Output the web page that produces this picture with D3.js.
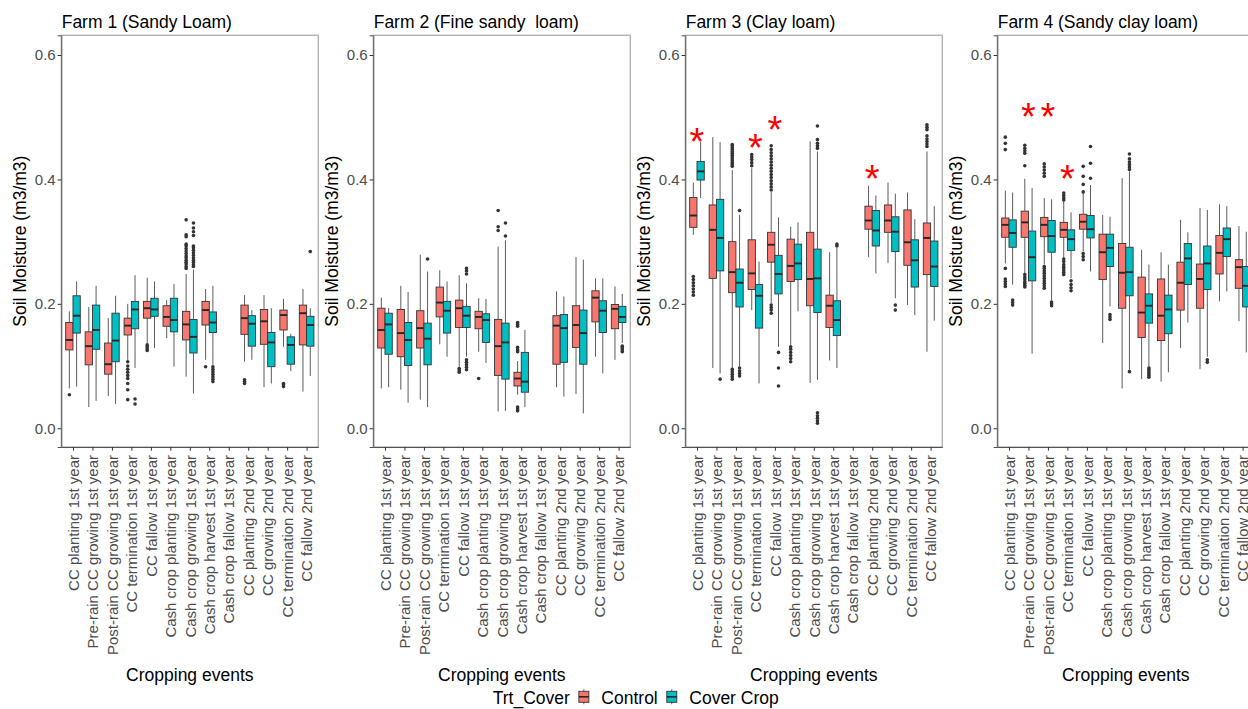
<!DOCTYPE html>
<html>
<head>
<meta charset="utf-8">
<script src="https://cdn.jsdelivr.net/npm/d3@7"></script>
<style>
  body { margin: 0; background: #fff; }
  svg { font-family: Arial, "Liberation Sans", sans-serif; }
</style>
</head>
<body>
<svg id="chart" width="1248" height="709"></svg>
<script>
const categories = [
  "CC planting 1st year", "Pre-rain CC growing 1st year", "Post-rain CC growing 1st year",
  "CC termination 1st year", "CC fallow 1st year", "Cash crop planting 1st year",
  "Cash crop growing 1st year", "Cash crop harvest 1st year", "Cash crop fallow 1st year",
  "CC planting 2nd year", "CC growing 2nd year", "CC termination 2nd year", "CC fallow 2nd year"
];
const farmTitles = ["Farm 1 (Sandy Loam)", "Farm 2 (Fine sandy  loam)", "Farm 3 (Clay loam)", "Farm 4 (Sandy clay loam)"];
const treatments = ["Control", "Cover Crop"];
const yTicks = [0, 0.2, 0.4, 0.6];

// [lower whisker, Q1, median, Q3, upper whisker] per cropping event
const f1Control = [
  [0.064, 0.126, 0.142, 0.170, 0.188], [0.034, 0.102, 0.132, 0.155, 0.195], [0.052, 0.087, 0.103, 0.137, 0.177],
  [0.110, 0.150, 0.165, 0.177, 0.200], [0.137, 0.177, 0.193, 0.204, 0.242], [0.145, 0.164, 0.179, 0.197, 0.206],
  [0.083, 0.142, 0.167, 0.188, 0.248], [0.110, 0.166, 0.190, 0.204, 0.224], null,
  [0.107, 0.151, 0.177, 0.198, 0.214], [0.066, 0.135, 0.172, 0.191, 0.214], [0.131, 0.158, 0.182, 0.190, 0.208],
  [0.059, 0.134, 0.185, 0.198, 0.224]
];
const f1Cover = [
  [0.067, 0.153, 0.181, 0.213, 0.236], [0.044, 0.127, 0.158, 0.198, 0.229], [0.039, 0.107, 0.141, 0.185, 0.213],
  [0.097, 0.160, 0.191, 0.204, 0.246], [0.129, 0.180, 0.191, 0.209, 0.236], [0.099, 0.155, 0.174, 0.209, 0.232],
  [0.056, 0.121, 0.147, 0.175, 0.255], [0.102, 0.154, 0.170, 0.187, 0.229], null,
  [0.110, 0.132, 0.168, 0.181, 0.190], [0.072, 0.099, 0.138, 0.154, 0.193], [0.092, 0.103, 0.134, 0.147, 0.152],
  [0.084, 0.132, 0.166, 0.180, 0.193]
];
const f1ControlOut = [
  [0.054], [], [], [0.046, 0.062, 0.072, 0.080, 0.085, 0.090, 0.095, 0.100, 0.107], [0.125, 0.128, 0.131, 0.134], [],
  [0.257, 0.260, 0.264, 0.267, 0.270, 0.274, 0.277, 0.281, 0.285, 0.289, 0.293, 0.296, 0.308, 0.311, 0.335],
  [0.099], [], [0.072, 0.075, 0.078], [], [0.067, 0.070, 0.072], []
];
const f1CoverOut = [
  [], [], [], [0.039, 0.047], [], [],
  [0.260, 0.263, 0.267, 0.270, 0.274, 0.278, 0.282, 0.286, 0.290, 0.293, 0.310, 0.316, 0.322, 0.330],
  [0.075, 0.079, 0.083, 0.087, 0.091, 0.095, 0.099], [], [], [], [], [0.284]
];

const f2Control = [
  [0.064, 0.129, 0.158, 0.193, 0.210], [0.062, 0.115, 0.153, 0.191, 0.229], [0.046, 0.129, 0.161, 0.189, 0.279],
  [0.135, 0.179, 0.202, 0.227, 0.254], [0.099, 0.162, 0.193, 0.206, 0.246], [0.123, 0.160, 0.179, 0.188, 0.209],
  [0.027, 0.085, 0.132, 0.175, 0.292], [0.054, 0.068, 0.080, 0.090, 0.108], null,
  [0.066, 0.103, 0.165, 0.181, 0.220], [0.055, 0.130, 0.166, 0.197, 0.275], [0.115, 0.171, 0.210, 0.221, 0.241],
  [0.110, 0.160, 0.192, 0.199, 0.228]
];
const f2Cover = [
  [0.066, 0.119, 0.167, 0.185, 0.193], [0.041, 0.101, 0.142, 0.170, 0.219], [0.034, 0.102, 0.144, 0.169, 0.252],
  [0.115, 0.153, 0.189, 0.204, 0.236], [0.115, 0.162, 0.181, 0.196, 0.233], [0.105, 0.138, 0.174, 0.184, 0.208],
  [0.028, 0.079, 0.138, 0.169, 0.302], [0.034, 0.058, 0.075, 0.122, 0.158], null,
  [0.051, 0.106, 0.161, 0.183, 0.212], [0.024, 0.103, 0.153, 0.190, 0.271], [0.088, 0.154, 0.189, 0.205, 0.241],
  [0.137, 0.170, 0.179, 0.196, 0.216]
];
const f2ControlOut = [
  [], [], [], [], [0.090, 0.093, 0.096], [0.080], [0.318, 0.324, 0.350],
  [0.028, 0.031, 0.034, 0.123, 0.126, 0.130, 0.164, 0.167, 0.170], [], [], [], [], []
];
const f2CoverOut = [
  [], [], [0.272], [], [0.094, 0.098, 0.102, 0.106, 0.110, 0.248, 0.253, 0.257], [], [0.309, 0.330],
  [], [], [], [], [], [0.123, 0.126, 0.129, 0.132]
];

const f3Control = [
  [0.311, 0.323, 0.342, 0.371, 0.395], [0.097, 0.241, 0.319, 0.359, 0.468], [0.097, 0.218, 0.251, 0.300, 0.415],
  [0.190, 0.223, 0.249, 0.303, 0.418], [0.201, 0.267, 0.295, 0.315, 0.380], [0.134, 0.236, 0.261, 0.304, 0.324],
  [0.073, 0.197, 0.240, 0.315, 0.461], [0.109, 0.162, 0.197, 0.214, 0.283], null,
  [0.275, 0.320, 0.334, 0.357, 0.390], [0.266, 0.315, 0.334, 0.359, 0.395], [0.198, 0.262, 0.299, 0.351, 0.379],
  [0.123, 0.247, 0.306, 0.330, 0.445]
];
const f3Cover = [
  [0.370, 0.399, 0.413, 0.429, 0.461], [0.088, 0.253, 0.306, 0.368, 0.460], [0.099, 0.195, 0.234, 0.256, 0.343],
  [0.072, 0.161, 0.213, 0.231, 0.268], [0.131, 0.216, 0.248, 0.278, 0.339], [0.188, 0.239, 0.265, 0.296, 0.331],
  [0.078, 0.186, 0.241, 0.288, 0.445], [0.097, 0.149, 0.174, 0.205, 0.290], null,
  [0.249, 0.293, 0.318, 0.350, 0.374], [0.209, 0.284, 0.316, 0.340, 0.377], [0.182, 0.227, 0.270, 0.303, 0.336],
  [0.173, 0.228, 0.260, 0.301, 0.357]
];
const f3ControlOut = [
  [0.214, 0.219, 0.224, 0.229, 0.234, 0.239, 0.244], [],
  [0.079, 0.083, 0.087, 0.091, 0.095, 0.421, 0.424, 0.427, 0.430, 0.433, 0.436, 0.439, 0.442, 0.445, 0.448, 0.451, 0.454, 0.456],
  [0.422, 0.427, 0.432, 0.436, 0.440],
  [0.185, 0.190, 0.194, 0.198, 0.383, 0.388, 0.393, 0.398, 0.403, 0.408, 0.413, 0.418, 0.423, 0.428, 0.433, 0.438, 0.443, 0.448, 0.454],
  [0.107, 0.112, 0.117, 0.122, 0.127, 0.131], [], [], [], [], [], [],
  [0.453, 0.457, 0.461, 0.465, 0.470, 0.480, 0.484, 0.488]
];
const f3CoverOut = [
  [], [0.079], [0.084, 0.088, 0.092, 0.097, 0.350], [], [0.068, 0.097, 0.122], [],
  [0.008, 0.012, 0.016, 0.020, 0.025, 0.450, 0.454, 0.458, 0.464, 0.486], [0.293, 0.296], [], [], [0.190, 0.198], [], []
];

const f4Control = [
  [0.265, 0.307, 0.327, 0.338, 0.382], [0.249, 0.307, 0.331, 0.349, 0.401], [0.263, 0.308, 0.327, 0.339, 0.370],
  [0.273, 0.307, 0.319, 0.331, 0.365], [0.284, 0.320, 0.332, 0.344, 0.378], [0.137, 0.239, 0.283, 0.312, 0.343],
  [0.064, 0.193, 0.250, 0.297, 0.402], [0.079, 0.146, 0.186, 0.243, 0.287], [0.075, 0.141, 0.181, 0.240, 0.283],
  [0.129, 0.190, 0.234, 0.267, 0.335], [0.095, 0.193, 0.240, 0.264, 0.354], [0.204, 0.248, 0.282, 0.310, 0.360],
  [0.172, 0.225, 0.259, 0.271, 0.325]
];
const f4Cover = [
  [0.231, 0.291, 0.314, 0.335, 0.379], [0.120, 0.237, 0.275, 0.317, 0.386], [0.206, 0.283, 0.309, 0.334, 0.368],
  [0.241, 0.286, 0.304, 0.319, 0.347], [0.252, 0.306, 0.320, 0.342, 0.391], [0.196, 0.260, 0.290, 0.312, 0.340],
  [0.094, 0.213, 0.251, 0.291, 0.413], [0.099, 0.169, 0.197, 0.216, 0.263], [0.090, 0.152, 0.191, 0.214, 0.263],
  [0.170, 0.231, 0.273, 0.297, 0.315], [0.115, 0.223, 0.265, 0.293, 0.351], [0.220, 0.276, 0.304, 0.322, 0.357],
  [0.122, 0.195, 0.229, 0.260, 0.316]
];
const f4ControlOut = [
  [0.228, 0.232, 0.236, 0.240, 0.257, 0.448, 0.458, 0.468],
  [0.227, 0.230, 0.233, 0.236, 0.240, 0.243, 0.247, 0.422, 0.442, 0.446, 0.450, 0.455],
  [0.225, 0.229, 0.233, 0.237, 0.241, 0.245, 0.249, 0.253, 0.257, 0.260, 0.405, 0.410, 0.415, 0.420, 0.425],
  [0.247, 0.251, 0.255, 0.259, 0.263, 0.268, 0.272, 0.367, 0.370, 0.374, 0.378],
  [0.271, 0.276, 0.281, 0.380, 0.392, 0.405, 0.421], [], [], [], [], [], [], [], []
];
const f4CoverOut = [
  [0.198, 0.202, 0.206], [], [0.197, 0.200, 0.203], [0.221, 0.226, 0.231, 0.237], [0.402, 0.426, 0.453],
  [0.175, 0.179, 0.183], [0.091, 0.416, 0.420, 0.424, 0.428, 0.433, 0.441],
  [0.082, 0.085, 0.088, 0.091, 0.094, 0.097], [], [], [0.106, 0.110], [], []
];

// significance asterisks: farm index, event index, height
const starFarm = [2, 2, 2, 2, 3, 3, 3];
const starEvent = [0, 3, 4, 9, 1, 2, 3];
const starValue = [0.473, 0.463, 0.493, 0.413, 0.513, 0.513, 0.413];

const farmStats = [[f1Control, f1Cover], [f2Control, f2Cover], [f3Control, f3Cover], [f4Control, f4Cover]];
const farmOut = [[f1ControlOut, f1CoverOut], [f2ControlOut, f2CoverOut], [f3ControlOut, f3CoverOut], [f4ControlOut, f4CoverOut]];

const fills = ["#F8766D", "#00BFC4"];
const panelLeft = 61.3, panelGap = 312, panelW = 257, panelTop = 35.3, panelH = 411.7;

const svg = d3.select("#chart");

const y = d3.scaleLinear().domain([-0.0301, 0.6317]).range([panelTop + panelH, panelTop]);
const x = d3.scalePoint().domain(categories).range([0, panelW]).padding(0.6);
const step = x.step(), half = 0.375 * step;

farmTitles.forEach((title, fi) => {
  const g = svg.append("g").attr("transform", `translate(${panelLeft + fi * panelGap},0)`);

  g.append("rect").attr("x", 0).attr("y", panelTop).attr("width", panelW).attr("height", panelH)
    .attr("fill", "#fff").attr("stroke", "#b3b3b3").attr("stroke-width", 1.4);

  // y axis
  const ya = g.append("g").call(d3.axisLeft(y).tickValues(yTicks).tickFormat(d3.format(".1f")).tickSize(3.7));
  ya.select(".domain").attr("stroke", "#555").attr("stroke-width", 1);
  ya.selectAll(".tick line").attr("stroke", "#333");
  ya.selectAll(".tick text").attr("fill", "#4d4d4d").style("font-size", "15px").attr("x", -5.6);

  // x axis
  const xa = g.append("g").attr("transform", `translate(0,${panelTop + panelH})`)
    .call(d3.axisBottom(x).tickSize(3.7).tickSizeOuter(0));
  xa.select(".domain").attr("stroke", "#555").attr("stroke-width", 1);
  xa.selectAll(".tick line").attr("stroke", "#333");
  xa.selectAll(".tick text").attr("fill", "#4d4d4d").style("font-size", "15px")
    .attr("transform", "rotate(-90)").attr("text-anchor", "end")
    .attr("x", -8).attr("y", 0).attr("dy", "0.35em");

  // titles
  g.append("text").attr("x", 0.4).attr("y", 28.3).style("font-size", "17.5px").style("white-space", "pre")
    .attr("fill", "#000").text(title);
  g.append("text").attr("transform", `translate(${panelW / 2},680.7)`).attr("text-anchor", "middle")
    .style("font-size", "17.5px").text("Cropping events");
  g.append("text").attr("transform", `translate(${26 - panelLeft},${panelTop + panelH / 2}) rotate(-90)`)
    .attr("text-anchor", "middle").style("font-size", "17.5px").text("Soil Moisture (m3/m3)");

  // boxes
  treatments.forEach((t, ti) => {
    const stats = farmStats[fi][ti], outs = farmOut[fi][ti];
    const boxes = g.append("g").selectAll("g").data(categories.map((c, ci) => ({ c, s: stats[ci], o: outs[ci] })).filter(d => d.s))
      .join("g");
    const x0 = d => x(d.c) + (ti === 0 ? -half : 0);
    const cx = d => x0(d) + half / 2;
    boxes.append("line").attr("x1", cx).attr("x2", cx).attr("y1", d => y(d.s[4])).attr("y2", d => y(d.s[3]))
      .attr("stroke", "#4a4a4a").attr("stroke-width", 0.9);
    boxes.append("line").attr("x1", cx).attr("x2", cx).attr("y1", d => y(d.s[1])).attr("y2", d => y(d.s[0]))
      .attr("stroke", "#4a4a4a").attr("stroke-width", 0.9);
    boxes.append("rect").attr("x", x0).attr("width", half).attr("y", d => y(d.s[3]))
      .attr("height", d => y(d.s[1]) - y(d.s[3]))
      .attr("fill", fills[ti]).attr("stroke", "#333").attr("stroke-width", 0.9);
    boxes.append("line").attr("x1", x0).attr("x2", d => x0(d) + half).attr("y1", d => y(d.s[2])).attr("y2", d => y(d.s[2]))
      .attr("stroke", "#262626").attr("stroke-width", 1.9);
    boxes.selectAll("circle").data(d => d.o.map(v => ({ v, cx: cx(d) }))).join("circle")
      .attr("cx", d => d.cx).attr("cy", d => y(d.v)).attr("r", 1.8).attr("fill", "#333");
  });

  // asterisks
  starFarm.forEach((f, si) => {
    if (f !== fi) return;
    g.append("text").attr("x", x(categories[starEvent[si]])).attr("y", y(starValue[si]) + 21)
      .attr("text-anchor", "middle").attr("fill", "#ff0000").style("font-size", "38px").text("*");
  });
});

// legend
const leg = svg.append("g");
const lBase = 703.8;
let lx = 492.7;
const ttl = leg.append("text").attr("x", lx).attr("y", lBase).style("font-size", "17.5px").text("Trt_Cover");
lx += ttl.node().getComputedTextLength() + 9;
treatments.forEach((t, ti) => {
  const kx = lx + 5;
  leg.append("line").attr("x1", kx).attr("x2", kx).attr("y1", lBase - 14.5).attr("y2", lBase + 0.5).attr("stroke", "#4a4a4a").attr("stroke-width", 0.9);
  leg.append("rect").attr("x", lx).attr("y", lBase - 12.5).attr("width", 10).attr("height", 11)
    .attr("fill", fills[ti]).attr("stroke", "#333").attr("stroke-width", 0.9);
  leg.append("line").attr("x1", lx).attr("x2", lx + 10).attr("y1", lBase - 7).attr("y2", lBase - 7).attr("stroke", "#262626").attr("stroke-width", 1.6);
  lx += 10 + 12.5;
  const lt = leg.append("text").attr("x", lx).attr("y", lBase).style("font-size", "17.5px").text(t);
  lx += lt.node().getComputedTextLength() + 9;
});
</script>
</body>
</html>
